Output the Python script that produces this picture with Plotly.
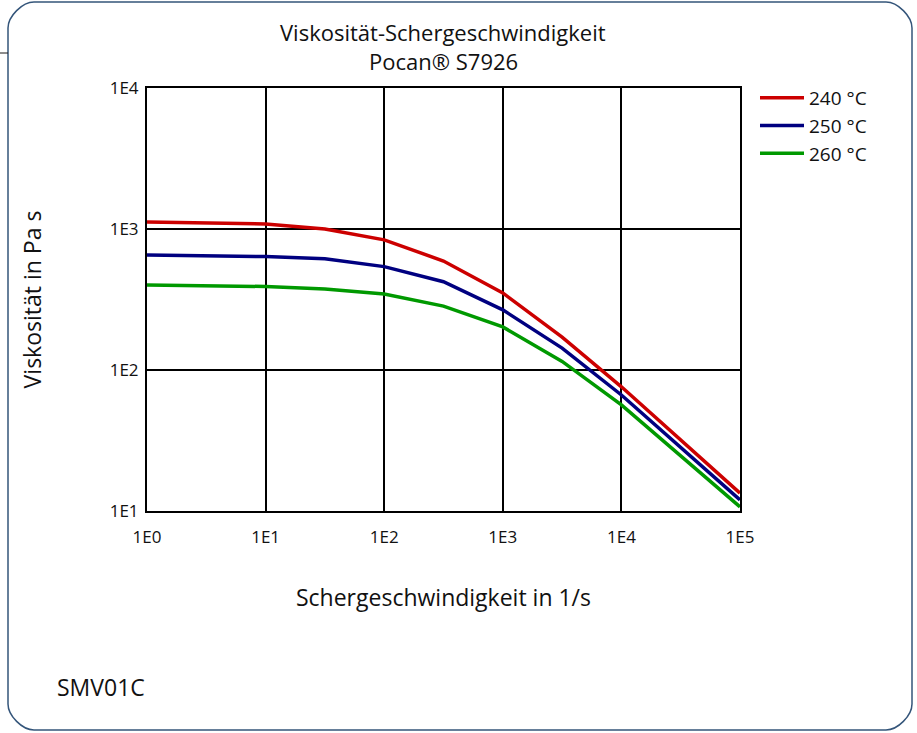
import plotly.graph_objects as go

# ---- data ----
shear_rate = [1, 10, 31.6, 100, 316, 1000, 3162, 10000, 100000]
visc_240 = [1122, 1085, 1000, 837, 593, 352, 171, 76, 13.4]
visc_250 = [655, 637, 615, 541, 423, 267, 143, 66.5, 12.0]
visc_260 = [401, 391, 376, 346, 284, 202, 115, 56.5, 10.7]
series_names = ["240 °C", "250 °C", "260 °C"]
x_tickvals = [1, 10, 100, 1000, 10000, 100000]
x_ticktext = ["1E0", "1E1", "1E2", "1E3", "1E4", "1E5"]
y_tickvals = [10, 100, 1000, 10000]
y_ticktext = ["1E1", "1E2", "1E3", "1E4"]

W, H = 917, 733
L, R, T, B = 147, 740, 88, 511
FONT = "Open Sans"
TXT = "#111111"


def px(x):
    return (x - L) / (R - L)


def py(y):
    return (B - y) / (B - T)


fig = go.Figure()
colors = ["#cc0000", "#000080", "#009900"]
for name, vals, c in zip(series_names, [visc_240, visc_250, visc_260], colors):
    fig.add_trace(go.Scatter(x=shear_rate, y=vals, name=name, mode="lines",
                             line=dict(color=c, width=3.5)))

# rounded border
x0, x1, y0, y1, r = 8, 912, 2, 730, 26
k = 0.45 * r
path = (f"M {px(x0 + r)} {py(y0)} L {px(x1 - r)} {py(y0)} "
        f"C {px(x1 - r + k)} {py(y0)} {px(x1)} {py(y0 + r - k)} {px(x1)} {py(y0 + r)} "
        f"L {px(x1)} {py(y1 - r)} "
        f"C {px(x1)} {py(y1 - r + k)} {px(x1 - r + k)} {py(y1)} {px(x1 - r)} {py(y1)} "
        f"L {px(x0 + r)} {py(y1)} "
        f"C {px(x0 + r - k)} {py(y1)} {px(x0)} {py(y1 - r + k)} {px(x0)} {py(y1 - r)} "
        f"L {px(x0)} {py(y0 + r)} "
        f"C {px(x0)} {py(y0 + r - k)} {px(x0 + r - k)} {py(y0)} {px(x0 + r)} {py(y0)} Z")
fig.add_shape(type="path", path=path, xref="paper", yref="paper",
              line=dict(color="#34557a", width=1.5), layer="below")
fig.add_shape(type="line", xref="paper", yref="paper",
              x0=px(0), x1=px(x0), y0=py(53), y1=py(53),
              line=dict(color="#1a1a1a", width=1))

fig.add_annotation(text="Viskosität-Schergeschwindigkeit",
                   xref="paper", yref="paper", x=px(443), y=py(32),
                   showarrow=False, font=dict(size=22, color=TXT, family=FONT),
                   xanchor="center", yanchor="middle")
fig.add_annotation(text="Pocan® S7926",
                   xref="paper", yref="paper", x=px(443), y=py(61),
                   showarrow=False, font=dict(size=22, color=TXT, family=FONT),
                   xanchor="center", yanchor="middle")
fig.add_annotation(text="SMV01C", xref="paper", yref="paper",
                   x=px(55), y=py(687), showarrow=False,
                   font=dict(size=23, color=TXT, family=FONT),
                   xanchor="left", yanchor="middle")

axis_common = dict(type="log", showline=True, linecolor="black", linewidth=2,
                   showgrid=True, gridcolor="black", gridwidth=2, mirror=True,
                   ticks="", zeroline=False,
                   tickfont=dict(size=17, color=TXT, family=FONT))
fig.update_xaxes(**axis_common, range=[0, 5], tickvals=x_tickvals, ticktext=x_ticktext,
                 ticklabelstandoff=10,
                 title=dict(text="Schergeschwindigkeit in 1/s", standoff=42,
                            font=dict(size=23, color=TXT, family=FONT)))
fig.update_yaxes(**axis_common, range=[1, 4], tickvals=y_tickvals, ticktext=y_ticktext,
                 ticklabelstandoff=3,
                 title=dict(text="Viskosität in Pa s", standoff=62,
                            font=dict(size=23, color=TXT, family=FONT)))

fig.update_layout(
    width=W, height=H,
    margin=dict(l=L, r=W - R, t=T, b=H - B),
    paper_bgcolor="white", plot_bgcolor="white",
    font=dict(family=FONT, color=TXT),
    legend=dict(x=px(755), y=py(79), xanchor="left", yanchor="top",
                font=dict(size=19, color=TXT, family=FONT),
                bgcolor="rgba(0,0,0,0)", itemwidth=44),
    showlegend=True,
)

fig.write_html("out.html", config={"displayModeBar": False},
               post_script="document.body.style.margin='0';document.body.style.overflow='hidden';")
